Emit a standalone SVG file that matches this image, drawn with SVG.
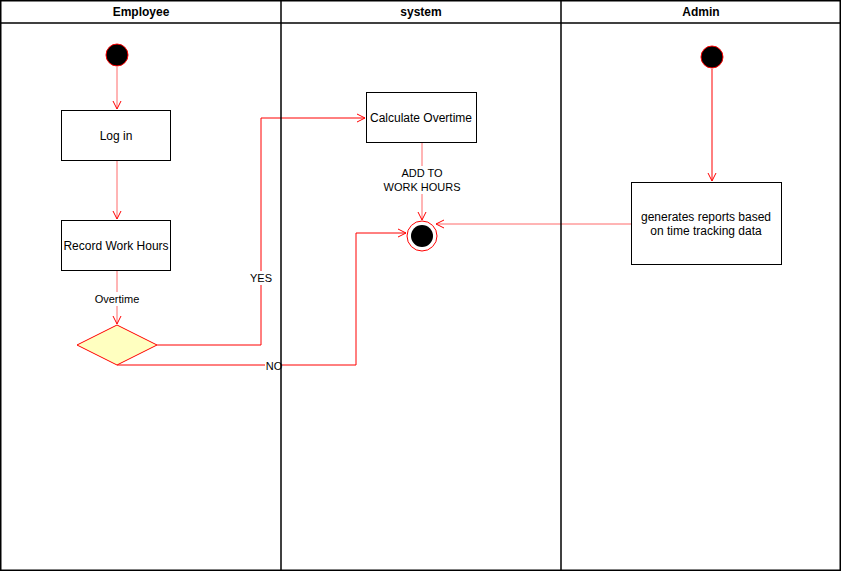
<svg xmlns="http://www.w3.org/2000/svg" width="841" height="571" viewBox="0 0 841 571">
<defs>
<marker id="arr" viewBox="0 0 10 10" refX="9" refY="5" markerWidth="10" markerHeight="10" markerUnits="userSpaceOnUse" orient="auto">
<path d="M1,1 L9,5 L1,9" fill="none" stroke="#ff0000" stroke-width="1"/>
</marker>
</defs>
<style>
.lane{fill:none;stroke:#000;stroke-width:1.5}
.hdr{font-family:"Liberation Sans",Arial,sans-serif;font-size:12px;font-weight:bold;fill:#000;text-anchor:middle}
.box{fill:#fff;stroke:#000;stroke-width:1}
.t{font-family:"Liberation Sans",Arial,sans-serif;font-size:12px;fill:#000;text-anchor:middle}
.lbl{font-family:"Liberation Sans",Arial,sans-serif;font-size:11px;fill:#000;text-anchor:middle}
.start{fill:#000;stroke:#ff0000;stroke-width:1}
.e{fill:none;stroke:#ff0000;stroke-width:1;marker-end:url(#arr)}
.el{fill:none;stroke:#ff6a6a;stroke-width:1;marker-end:url(#arr)}
</style>
<rect x="0" y="0" width="841" height="571" fill="#fff"/>
<g id="connectors">
<line class="el" x1="117" y1="67" x2="117" y2="109"/>
<line class="el" x1="117" y1="160" x2="117" y2="219"/>
<line class="el" x1="117" y1="270" x2="117" y2="324"/>
<rect x="93" y="292" width="48" height="14" fill="#fff"/>
<text class="lbl" x="117" y="303">Overtime</text>
<polyline class="e" points="157,345 261,345 261,118 365,118"/>
<rect x="248" y="271" width="26" height="14" fill="#fff"/>
<text class="lbl" x="261" y="282">YES</text>
<polyline class="e" points="117,365 356,365 356,233 406,233"/>
<rect x="265" y="359" width="16" height="14" fill="#fff"/>
<text class="lbl" x="274" y="370">NO</text>
<line class="el" x1="422" y1="142" x2="422" y2="220"/>
<rect x="383" y="166" width="78" height="28" fill="#fff"/>
<text class="lbl" x="422" y="177">ADD TO</text>
<text class="lbl" x="422" y="191">WORK HOURS</text>
<line class="e" x1="712" y1="69" x2="712" y2="181"/>
<line class="el" x1="631" y1="224" x2="436" y2="224"/>
</g>
<g id="lanes">
<rect class="lane" x="0.75" y="0.75" width="839.5" height="569.5"/>
<line class="lane" x1="0" y1="23" x2="841" y2="23"/>
<line class="lane" x1="281" y1="0" x2="281" y2="571"/>
<line class="lane" x1="561" y1="0" x2="561" y2="571"/>
<text class="hdr" x="141" y="16">Employee</text>
<text class="hdr" x="421" y="16">system</text>
<text class="hdr" x="701" y="16">Admin</text>
</g>
<g id="start-employee"><circle class="start" cx="117" cy="55" r="11"/></g>
<g id="login"><rect class="box" x="61.5" y="110.5" width="109" height="50"/><text class="t" x="116" y="140">Log in</text></g>
<g id="record"><rect class="box" x="61.5" y="220.5" width="109" height="50"/><text class="t" x="116" y="250">Record Work Hours</text></g>
<g id="decision"><polygon points="117,325 157,345 117,365 77,345" fill="#ffffc0" stroke="#ff0000" stroke-width="1"/></g>
<g id="calc"><rect class="box" x="366.5" y="92.5" width="110" height="50"/><text class="t" x="421" y="122">Calculate Overtime</text></g>
<g id="end"><circle cx="422" cy="236" r="15" fill="#fff" stroke="#ff0000" stroke-width="1"/><circle cx="422" cy="236" r="11" fill="#000"/></g>
<g id="start-admin"><circle class="start" cx="712" cy="57" r="11"/></g>
<g id="reports"><rect class="box" x="631.5" y="182.5" width="150" height="82"/><text class="t" x="706" y="221">generates reports based</text><text class="t" x="706" y="235">on time tracking data</text></g>
</svg>
